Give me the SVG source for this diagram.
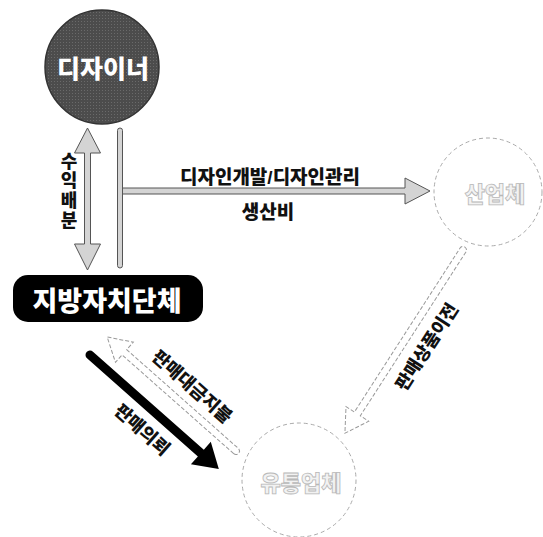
<svg xmlns="http://www.w3.org/2000/svg" width="543" height="537" viewBox="0 0 543 537">
<defs>
<style>
text{font-family:"Liberation Sans","Noto Sans CJK KR",sans-serif;font-weight:900;text-anchor:middle}
.lbl{font-size:18px;fill:#111}
.faint{fill:#f2f2f2;stroke:#b8b8b8;stroke-width:0.8;font-size:22px}
.ghost{fill:#fff;stroke:#aaa;stroke-width:1;stroke-dasharray:4 3}
.hollow{fill:#fff;stroke:#999;stroke-width:1;stroke-dasharray:4 2}
.gray{fill:#d4d4d4;stroke:#555;stroke-width:1}
</style>
<pattern id="ht" width="3" height="3" patternUnits="userSpaceOnUse">
<rect width="3" height="3" fill="#4c4c4c"/>
<rect width="1" height="1" fill="#6a6a6a"/>
</pattern>
</defs>
<g id="designer">
<circle cx="102" cy="67" r="57" fill="url(#ht)" stroke="#333" stroke-width="1.5"/>
<text x="103" y="78" font-size="25" fill="#fff">디자이너</text>
</g>
<g id="local-gov">
<rect x="13" y="275" width="190" height="47" rx="15" fill="#000"/>
<text x="107" y="311" font-size="27" fill="#fff">지방자치단체</text>
</g>
<g id="industry">
<circle cx="488" cy="192" r="54" class="ghost"/>
<text x="495" y="202" class="faint">산업체</text>
</g>
<g id="distributor">
<circle cx="299" cy="480" r="57" class="ghost"/>
<text x="301" y="491" class="faint">유통업체</text>
</g>
<g id="connectors">
<path class="gray" d="M87.5,128 L100.5,153 L90.5,153 L90.5,244 L100.5,244 L87.5,270 L74.5,244 L84.5,244 L84.5,153 L74.5,153 Z"/>
<rect class="gray" x="117.5" y="128" width="5" height="140" rx="2.5"/>
<path class="gray" d="M122.5,188 L405,188 L405,178 L430,191 L405,204 L405,194 L122.5,194 Z"/>
<path class="hollow" transform="translate(463,250) rotate(122.8)" d="M0,-3.5 L195,-3.5 L195,-13.5 L218,0 L195,13.5 L195,3.5 L0,3.5 A3.5,3.5 0 0 1 0,-3.5 Z"/>
<path class="hollow" transform="translate(236,451) rotate(-138.5)" d="M0,-3.5 L149,-3.5 L149,-13.5 L172,0 L149,13.5 L149,3.5 L0,3.5 A3.5,3.5 0 0 1 0,-3.5 Z"/>
<path fill="#000" transform="translate(90,355) rotate(41.5)" d="M0,-4.5 L148,-4.5 L148,-15 L172,0 L148,15 L148,4.5 L0,4.5 A4.5,4.5 0 0 1 0,-4.5 Z"/>
</g>
<g id="labels">
<text class="lbl"><tspan x="69" y="168">수</tspan><tspan x="69" y="187">익</tspan><tspan x="69" y="207">배</tspan><tspan x="69" y="227">분</tspan></text>
<text class="lbl" x="270" y="184" style="font-size:19px">디자인개발/디자인관리</text>
<text class="lbl" x="268" y="219" style="font-size:19px">생산비</text>
<text class="lbl" transform="translate(427,347) rotate(-57.2)" y="6">판매상품이전</text>
<text class="lbl" transform="translate(192,387) rotate(41.5)" y="6">판매대금지불</text>
<text class="lbl" transform="translate(142,430) rotate(41.5)" y="6">판매의뢰</text>
</g>
</svg>
